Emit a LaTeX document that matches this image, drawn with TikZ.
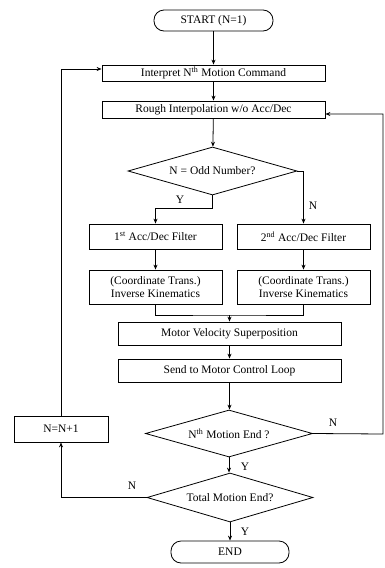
\documentclass[tikz,border=0pt]{standalone}
\usepackage{fontspec}
\setmainfont{Liberation Serif}
\usetikzlibrary{arrows.meta,shapes.geometric}
\begin{document}
\begin{tikzpicture}[x=1pt,y=-1pt,
  every node/.style={font=\fontsize{11.5}{12.5}\selectfont, inner sep=0pt},
  box/.style={draw, line width=0.8pt, minimum width=#1, align=center},
  term/.style={draw, line width=0.8pt, rounded corners=10pt, minimum width=119pt, minimum height=21pt},
  dec/.style={draw, line width=0.8pt, diamond, shape aspect=3.5},
  lbl/.style={font=\fontsize{11.5}{12.5}\selectfont},
  conn/.style={line width=0.8pt},
  arr/.style={line width=0.8pt, -{Stealth[length=5pt,width=4pt]}}]
\useasboundingbox (0,0) rectangle (384,568);
\node[term] (start) at (213.5,20.5) {START (N=1)};
\node[box=223pt, minimum height=16pt] (interp) at (213.5,73) {Interpret N\textsuperscript{th} Motion Command};
\node[box=223pt, minimum height=17pt] (rough) at (213.5,109.5) {Rough Interpolation w/o Acc/Dec};
\node[dec, minimum width=169pt, minimum height=48pt] (odd) at (212.5,171) {N = Odd Number?};
\node[box=133pt, minimum height=25pt] (f1) at (155.5,236.5) {1\textsuperscript{st} Acc/Dec Filter};
\node[box=133pt, minimum height=25pt] (f2) at (303.5,236.5) {2\textsuperscript{nd} Acc/Dec Filter};
\node[box=133pt, minimum height=34pt] (ik1) at (155.5,287) {(Coordinate Trans.)\\Inverse Kinematics};
\node[box=133pt, minimum height=34pt] (ik2) at (303.5,287) {(Coordinate Trans.)\\Inverse Kinematics};
\node[box=223pt, minimum height=23pt] (mv) at (229.5,333.5) {Motor Velocity Superposition};
\node[box=223pt, minimum height=23pt] (send) at (229.5,370.5) {Send to Motor Control Loop};
\node[dec, minimum width=167pt, minimum height=47pt] (nth) at (229,433.5) {N\textsuperscript{th} Motion End ?};
\node[dec, minimum width=166pt, minimum height=49pt] (total) at (230,497.5) {Total Motion End?};
\node[box=94pt, minimum height=26pt] (inc) at (61,429) {N=N+1};
\node[term, minimum width=118pt, minimum height=22pt] (end) at (230,552) {END};
\coordinate (mj) at (229.5,315);
\coordinate (rt) at (383,434);
\coordinate (rt2) at (383,114);
\coordinate (lt) at (61,69);
\coordinate (lb) at (61,497.5);
\draw[arr] (start) -- (interp);
\draw[arr] (interp) -- (rough);
\draw[arr] (rough) -- (odd);
\draw[arr] (odd.south) -- ++(0,13) -| (f1.north);
\draw[arr] (odd.east) -| (f2.north);
\draw[arr] (f1) -- (ik1);
\draw[arr] (f2) -- (ik2);
\draw[conn] (ik1.south) |- (mj) -| (ik2.south);
\draw[arr] (mj) -- (mv.north);
\draw[arr] (mv) -- (send);
\draw[arr] (send.south) -- (send.south |- nth.north);
\draw[arr] (nth.south) -- (nth.south |- total.north);
\draw[arr] (total.south) -- (total.south |- end.north);
\draw[arr] (nth.east) -- (rt) -- (rt2) -- (rough.east |- rt2);
\draw[arr] (total.west) -- (lb) -- (inc.south);
\draw[arr] (inc.north) -- (lt) -- (interp.west |- lt);
\node[lbl] (y1) at (180,200) {Y};
\node[lbl] (n1) at (313,206) {N};
\node[lbl] (n2) at (333,423) {N};
\node[lbl] (y2) at (245,467) {Y};
\node[lbl] (n3) at (132,486) {N};
\node[lbl] (y3) at (245,532) {Y};
\end{tikzpicture}
\end{document}
